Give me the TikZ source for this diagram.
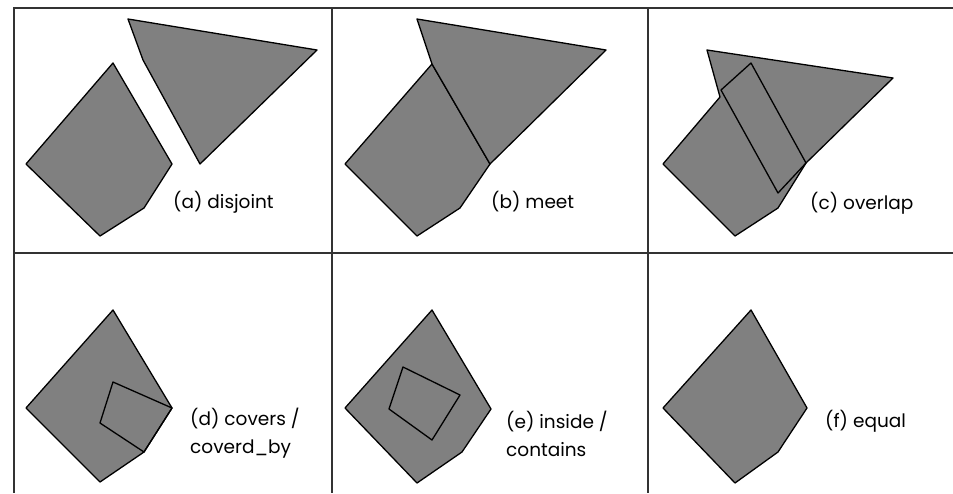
\documentclass[tikz,border=0pt]{standalone}
\usepackage{fontspec}
\setmainfont{Poppins}
\definecolor{regiongray}{HTML}{808080}
\definecolor{framegray}{HTML}{333333}
\tikzset{
  region/.style={fill=regiongray, draw=black, line width=1.3pt, line join=round},
  hole/.style={draw=black, line width=1.3pt, line join=round},
  frameline/.style={draw=framegray, line width=2pt},
  caption/.style={anchor=west, align=left, font=\fontsize{18.5}{28}\selectfont, text=black, inner sep=0pt}
}
\begin{document}
\begin{tikzpicture}[x=1pt,y=-1pt]
\useasboundingbox (0,0) rectangle (953,493);

% ===== Grid =====
\draw[frameline] (953,8) -- (14,8) -- (14,493);
\draw[frameline] (14,253) -- (953,253);
\draw[frameline] (332,8) -- (332,493);
\draw[frameline] (648,8) -- (648,493);

% ===== (a) disjoint =====
\draw[region] (113,63) -- (172,164) -- (144,208) -- (100,236) -- (26,164) -- cycle;
\draw[region] (128,19) -- (317,50) -- (200,164) -- (143,60) -- cycle;
\node[caption] (capA) at (173,202) {(a) disjoint};

% ===== (b) meet =====
\draw[region] (432,64) -- (490,164) -- (460,208) -- (417,236) -- (345,164) -- cycle;
\draw[region] (417,19) -- (606,50) -- (490,164) -- (432,64) -- cycle;
\node[caption] (capB) at (491,202) {(b) meet};

% ===== (c) overlap =====
\draw[region] (707,50) -- (893,78) -- (806,163) -- (778,208) -- (735,236)
  -- (663,164) -- (720,97) -- cycle;
\draw[hole] (721,90) -- (751,63) -- (806,163) -- (778,193) -- cycle;
\node[caption] (capC) at (810,203) {(c) overlap};

% ===== (d) covers / coverd_by =====
\draw[region] (113,310) -- (172,408) -- (144,452) -- (100,482) -- (26,408) -- cycle;
\draw[hole] (113,382) -- (172,408) -- (144,452) -- (100,423) -- cycle;
\node[caption] (capD) at (190,433) {(d) covers /\\coverd\_by};

% ===== (e) inside / contains =====
\draw[region] (432,310) -- (491,409) -- (462,452) -- (417,483) -- (345,408) -- cycle;
\draw[hole] (403,367) -- (460,395) -- (432,440) -- (389,409) -- cycle;
\node[caption] (capE) at (506,434) {(e) inside /\\contains};

% ===== (f) equal =====
\draw[region] (751,310) -- (807,408) -- (778,452) -- (735,483) -- (663,408) -- cycle;
\node[caption] (capF) at (825,421) {(f) equal};

\end{tikzpicture}
\end{document}
